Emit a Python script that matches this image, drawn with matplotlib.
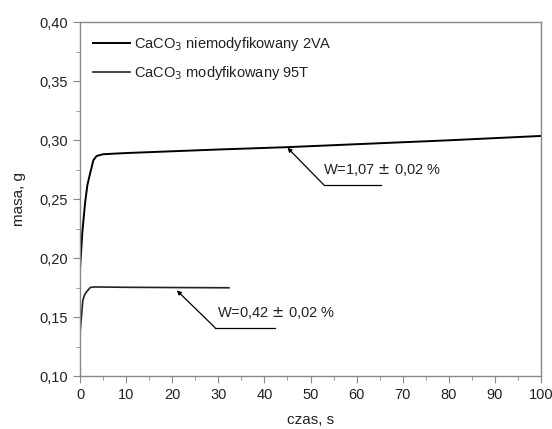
import numpy as np
import matplotlib
matplotlib.use('Agg')
import matplotlib.pyplot as plt
from matplotlib.ticker import FuncFormatter, MultipleLocator

plt.rcParams['font.family'] = ['Liberation Sans', 'DejaVu Sans']

# niemodyfikowany 2VA
czas_a = [0, 0.5, 1.1, 1.6, 2.2, 2.9, 3.6, 5, 10, 20, 30, 45, 60, 80, 100]
masa_a = [0.191, 0.222, 0.247, 0.262, 0.272, 0.283, 0.2865, 0.2880, 0.2890, 0.2905, 0.2920, 0.2940, 0.2965, 0.2998, 0.3035]
# modyfikowany 95T
czas_b = [0, 0.3, 0.6, 1.0, 1.45, 2.2, 3, 10, 20, 32.3]
masa_b = [0.136, 0.150, 0.164, 0.169, 0.1715, 0.175, 0.1755, 0.1752, 0.1750, 0.1748]

labels = ['CaCO$_3$ niemodyfikowany 2VA', 'CaCO$_3$ modyfikowany 95T']
notes = ['W=1,07 $\\pm$ 0,02 %', 'W=0,42 $\\pm$ 0,02 %']
# arrow tip, elbow, end of shelf, text position
note_pts = [[(45, 0.2935), (52.9, 0.262), (65.3, 0.262), (52.7, 0.2745)],
            [(21, 0.1725), (29.3, 0.141), (42.3, 0.141), (29.7, 0.1535)]]

fig = plt.figure(figsize=(5.52, 4.29), dpi=100)
ax = fig.add_axes([0.145, 0.1235, 0.835, 0.825])

ax.plot(czas_a, masa_a, color='black', lw=1.4, label=labels[0])
ax.plot(czas_b, masa_b, color='#222222', lw=1.2, label=labels[1])

for txt, (tip, elbow, end, tpos) in zip(notes, note_pts):
    ax.plot([elbow[0], end[0]], [elbow[1], end[1]], color='black', lw=0.9)
    ax.annotate('', xy=tip, xytext=elbow,
                arrowprops=dict(arrowstyle='-|>', color='black', lw=0.9,
                                mutation_scale=6, shrinkA=0, shrinkB=0))
    ax.text(tpos[0], tpos[1], txt, fontsize=10.5, va='center', ha='left',
            color='#222222')

ax.set_xlim(0, 100)
ax.set_ylim(0.10, 0.40)
ax.xaxis.set_major_locator(MultipleLocator(10))
ax.xaxis.set_minor_locator(MultipleLocator(5))
ax.yaxis.set_major_locator(MultipleLocator(0.05))
ax.yaxis.set_minor_locator(MultipleLocator(0.025))
ax.yaxis.set_major_formatter(FuncFormatter(lambda v, p: ('%.2f' % v).replace('.', ',')))

for s in ax.spines.values():
    s.set_color('#888888')
    s.set_linewidth(1.0)
ax.tick_params(which='both', direction='out', color='#888888')
ax.tick_params(which='major', length=5, labelsize=10.5, labelcolor='#222222')
ax.tick_params(which='minor', length=3)

ax.set_xlabel('czas, s', fontsize=11, color='#222222', labelpad=8)
ax.set_ylabel('masa, g', fontsize=11, color='#222222', labelpad=10)

ax.legend(loc='upper left', frameon=False, fontsize=10.5, handlelength=2.5,
          handletextpad=0.3, borderaxespad=0.5, labelspacing=0.75,
          labelcolor='#222222')

fig.savefig('out.png', dpi=100)
